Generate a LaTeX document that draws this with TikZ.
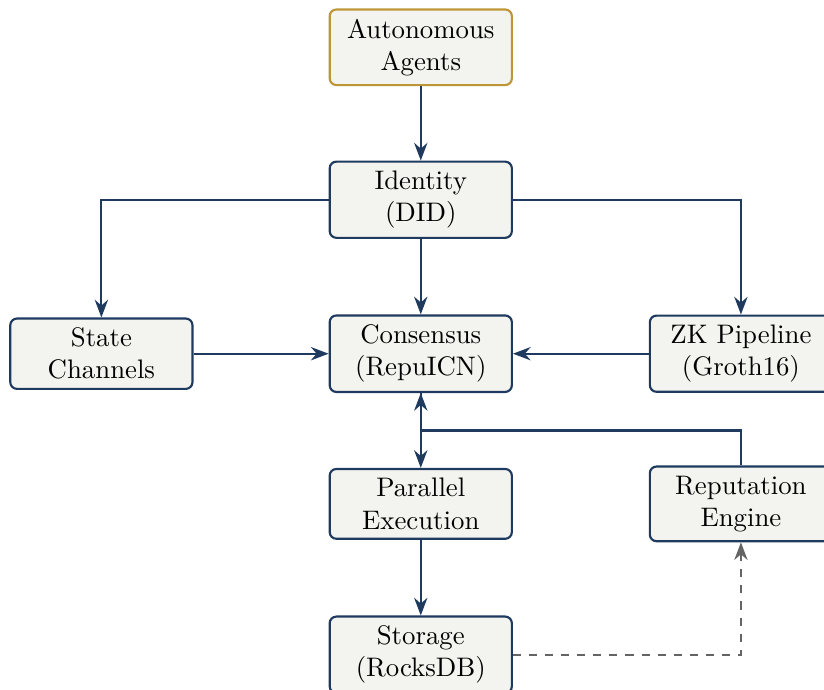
\documentclass[tikz,border=0pt]{standalone}
\usepackage{tikz}
\usetikzlibrary{arrows.meta,calc}

\definecolor{navy}{RGB}{30,58,95}
\definecolor{gold}{RGB}{190,150,55}
\definecolor{paper}{RGB}{243,244,239}
\definecolor{dashgray}{RGB}{100,100,100}

\begin{document}
\begin{tikzpicture}[
    box/.style={draw=navy, fill=paper, line width=0.8pt, rounded corners=2.5pt,
      align=center, minimum width=2.39cm, inner sep=3.5pt},
    flow/.style={draw=navy, line width=0.8pt, -{Stealth}},
  ]
  \useasboundingbox (0,0) rectangle (10.81,-9.05);

  \node[box, draw=gold] (agents) at (5.52,-0.62) {Autonomous\\Agents};
  \node[box] (identity) at (5.52,-2.62) {Identity\\(DID)};
  \node[box] (state) at (1.33,-4.64) {State\\Channels};
  \node[box] (consensus) at (5.52,-4.64) {Consensus\\(RepuICN)};
  \node[box] (zk) at (9.72,-4.64) {ZK Pipeline\\(Groth16)};
  \node[box] (parallel) at (5.52,-6.61) {Parallel\\Execution};
  \node[box] (reputation) at (9.72,-6.61) {Reputation\\Engine};
  \node[box] (storage) at (5.52,-8.59) {Storage\\(RocksDB)};

  \coordinate (join) at ($(consensus.south)!0.5!(parallel.north)$);

  \draw[flow] (agents) -- (identity);
  \draw[flow] (identity.west) -| (state.north);
  \draw[flow] (identity.east) -| (zk.north);
  \draw[flow] (identity) -- (consensus);
  \draw[flow] (state) -- (consensus);
  \draw[flow] (zk) -- (consensus);

  \draw[flow] (reputation.north) |- (join) -- (consensus.south);
  \draw[flow] (consensus) -- (parallel);
  \draw[flow] (parallel) -- (storage);

  % storage feeds reputation
  \draw[line width=0.8pt, dashed, draw=dashgray, -{Stealth}]
    (storage.east) -| (reputation.south);
\end{tikzpicture}
\end{document}
